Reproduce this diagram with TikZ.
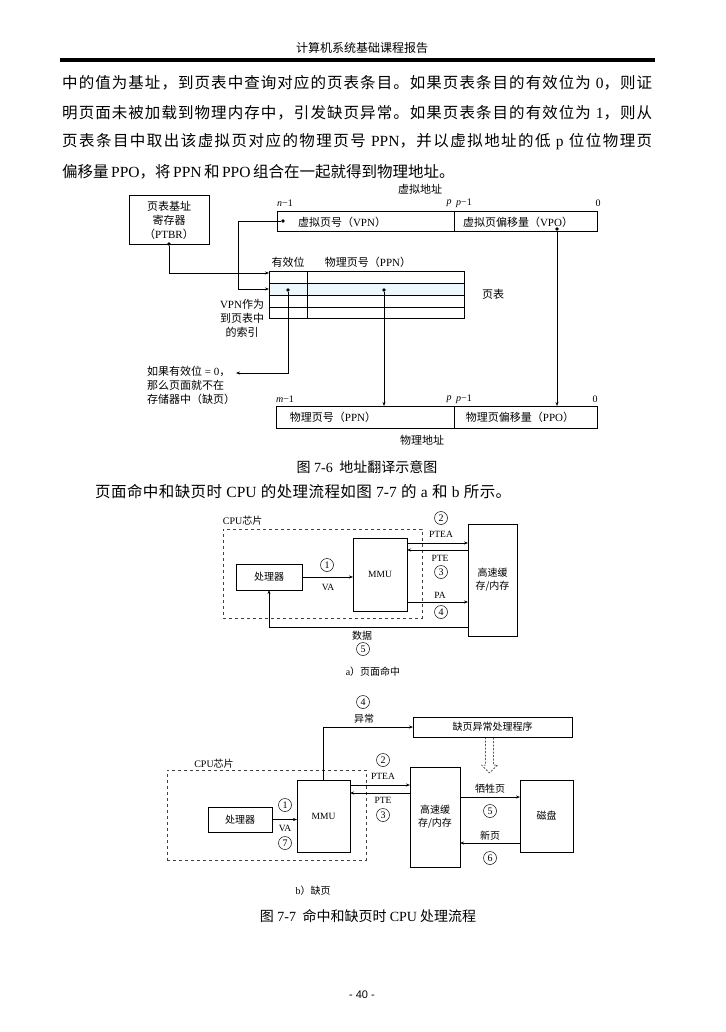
\documentclass[tikz,border=0pt]{standalone}
\usepackage{fontspec}
\setmainfont{Noto Sans CJK SC}
\newfontfamily\latfont{Liberation Serif}
\newfontfamily\pgnfont{Liberation Sans}
\newcommand\ltn[1]{{\latfont #1}}
\usetikzlibrary{arrows.meta, positioning, calc, shadows}

% stretchable glue between CJK characters, for justified lines
\newcount\cjkc
\cjkc="4E00
\loop\XeTeXcharclass\cjkc=7 \advance\cjkc by 1 \ifnum\cjkc<"A000 \repeat
\XeTeXcharclass"FF0C=8 \XeTeXcharclass"3002=8 \XeTeXcharclass"FF09=8
\XeTeXcharclass"FF08=9
\newcommand\cjkglue{\hskip 0pt plus 2pt minus 0.4pt\relax}
\XeTeXinterchartokenstate=1
\XeTeXinterchartoks 7 7 = {\cjkglue}
\XeTeXinterchartoks 7 8 = {\cjkglue}
\XeTeXinterchartoks 8 7 = {\cjkglue}
\XeTeXinterchartoks 7 9 = {\cjkglue}
\XeTeXinterchartoks 9 7 = {\cjkglue}
\newcommand\tsp{\hspace{2.5pt}}

\begin{document}
\begin{tikzpicture}[x=1pt, y=-1pt,
    lbl/.style={font=\fontsize{11}{14}\selectfont, align=center, inner sep=0pt},
    sml/.style={font=\fontsize{10}{13}\selectfont, align=center, inner sep=0pt},
    latl/.style={font=\latfont\fontsize{9.5}{10}\selectfont, inner sep=0pt},
    bitl/.style={font=\latfont\fontsize{10}{10}\selectfont, inner sep=0pt},
    body/.style={font=\fontsize{15.5}{20}\selectfont, anchor=west, inner sep=0pt},
    figcap/.style={font=\fontsize{14}{16}\selectfont, inner sep=0pt},
    fld/.style={draw, line width=1pt, inner sep=0pt, outer sep=0pt},
    bx/.style={draw, line width=0.6pt, fill=white, inner sep=0pt, outer sep=0pt,
      drop shadow={shadow xshift=1.3pt, shadow yshift=-1.3pt, fill=black, opacity=1}},
    chip/.style={draw=black!75, dashed, line width=0.5pt, inner sep=0pt},
    num/.style={circle, draw, line width=0.5pt, inner sep=0pt, minimum size=13pt,
      font=\latfont\fontsize{10}{10}\selectfont},
    arr/.style={-{Stealth[length=4pt, width=3pt]}, line width=0.6pt},
    dot/.style={circle, fill, inner sep=0pt, minimum size=3.6pt},
  ]
  \fill[white] (0,0) rectangle (725,1032);
  \useasboundingbox (0,0) rectangle (725,1032);

  % page head and body text
  \node[font=\fontsize{12}{12}\selectfont] (hdr) at (362,48) {计算机系统基础课程报告};
  \draw[line width=3.2pt] (60,60) -- (655,60);
  \node[body] (l1) at (62,83) {\makebox[590pt][s]{中的值为基址，到页表中查询对应的页表条目。如果页表条目的有效位为\ltn{ 0}，则证}};
  \node[body] (l2) at (62,112.5) {\makebox[590pt][s]{明页面未被加载到物理内存中，引发缺页异常。如果页表条目的有效位为\ltn{ 1}，则从}};
  \node[body] (l3) at (62,142) {\makebox[590pt][s]{页表条目中取出该虚拟页对应的物理页号\ltn{ PPN}，并以虚拟地址的低\ltn{ p }位位物理页}};
  \node[body] (l4) at (62,172) {偏移量\tsp\ltn{PPO}，将\tsp\ltn{PPN}\tsp 和\tsp\ltn{PPO}\tsp 组合在一起就得到物理地址。};

  % fig 7-6
  \node[lbl] (vatitle) at (420,189) {虚拟地址};
  \node[fld, lbl, minimum width=80pt, minimum height=48pt] (ptbr) at (169,220) {页表基址\\寄存器\\（\ltn{PTBR}）};
  \node[fld, minimum width=177pt, minimum height=20pt] (vpn) at (365.5,222) {};
  \node[fld, minimum width=143pt, minimum height=20pt, right=0pt of vpn] (vpo) {};
  \node[lbl] at (342,222) {虚拟页号（\ltn{VPN}）};
  \node[lbl] at (518,222) {虚拟页偏移量（\ltn{VPO}）};
  \node[bitl] at (285,203) {\itshape n\upshape −1};
  \node[bitl] at (449,203) {\itshape p};
  \node[bitl, anchor=west] at (456,203) {\itshape p\upshape −1};
  \node[bitl] at (598,203) {0};

  \node[lbl] at (288,262) {有效位};
  \node[lbl] at (368,262) {物理页号（\ltn{PPN}）};
  \fill[cyan!8] (269,283) rectangle (464,295);
  \node[draw, line width=0.8pt, outer sep=0pt, minimum width=195pt, minimum height=47pt] (ptab) at (366.5,294.5) {};
  \foreach \y in {283,295,307}
    \draw[line width=0.8pt] (269,\y) -- (464,\y);
  \draw[line width=0.8pt] (307,271) -- (307,318);
  \node[lbl, right=18pt of ptab] {页表};
  \coordinate (row1) at (269,273);
  \coordinate (row2) at (269,289);

  \node[dot] (ptbrd) at (ptbr.south) {};
  \node[dot] (vpnd) at (283,221) {};
  \node[dot] (vpod) at (557,229) {};
  \node[dot] (vbit) at (288,290) {};
  \node[dot] (ppnd) at (384,290) {};

  \node[lbl] (idx) at (242,318) {\ltn{VPN}作为\\到页表中\\的索引};
  \node[lbl, align=left, anchor=north west] (fault) at (147,366) {如果有效位\ltn{ = 0}，\\那么页面就不在\\存储器中（缺页）};
  \coordinate (faulttip) at (236,373);

  \node[fld, minimum width=178pt, minimum height=22pt] (ppn) at (365,417) {};
  \node[fld, minimum width=143pt, minimum height=22pt, right=0pt of ppn] (ppo) {};
  \node[lbl] at (333,417) {物理页号（\ltn{PPN}）};
  \node[lbl] at (520,417) {物理页偏移量（\ltn{PPO}）};
  \node[bitl] at (285,399) {\itshape m\upshape −1};
  \node[bitl] at (449,399) {\itshape p};
  \node[bitl, anchor=west] at (456,399) {\itshape p\upshape −1};
  \node[bitl] at (595,399) {0};
  \node[lbl] (patitle) at (422,440) {物理地址};

  \draw[arr] (ptbrd) |- (row1);
  \draw[arr] (vpnd) -- ++(-45,0) |- (row2);
  \draw[arr] (vbit) |- (faulttip);
  \draw[arr] (ppnd) -- (ppnd |- ppn.north);
  \draw[arr] (vpod) -- (vpod |- ppo.north);

  \node[figcap] (cap76) at (367,467) {图\ltn{ 7-6 } 地址翻译示意图};
  \node[body] (l5) at (95,492) {\makebox[416pt][s]{页面命中和缺页时\ltn{ CPU }的处理流程如图\ltn{ 7-7 }的\ltn{ a }和\ltn{ b }所示。}};

  % fig 7-7 a
  \node[chip, minimum width=199pt, minimum height=89pt] (chipa) at (322.5,573.5) {};
  \node[sml, anchor=south west] at ([yshift=3pt]chipa.north west) {\ltn{CPU}芯片};
  \node[bx, sml, minimum width=66pt, minimum height=26pt] (proca) at (269,577) {处理器};
  \node[bx, latl, minimum width=54pt, minimum height=73pt] (mmua) at (380,574.5) {MMU};
  \node[bx, sml, minimum width=49pt, minimum height=112pt] (mema) at (492.5,580) {高速缓\\存/内存};

  \coordinate (pteaa) at ($(mmua.north east)+(0,5)$);
  \coordinate (ptea) at ($(mmua.north east)+(0,12)$);
  \coordinate (paa) at ($(mmua.south east)+(0,-9)$);
  \coordinate (dataa) at ($(mema.south west)+(0,-9)$);
  \draw[arr] (proca.east) -- (proca.east -| mmua.west);
  \draw[arr] (pteaa) -- (pteaa -| mema.west);
  \draw[arr] (ptea -| mema.west) -- (ptea);
  \draw[arr] (paa) -- (paa -| mema.west);
  \draw[arr] (dataa) -| (proca.south);

  \node[num] at (327,565) {1};
  \node[latl] at (328,587) {VA};
  \node[num] at (441,518) {2};
  \node[latl] at (441,534) {PTEA};
  \node[latl] at (440,558) {PTE};
  \node[num] at (441,572) {3};
  \node[latl] at (440,595) {PA};
  \node[num] at (441,612) {4};
  \node[sml] at (362,636) {数据};
  \node[num] at (363,649) {5};
  \node[sml] at (373,672) {\ltn{a}）页面命中};

  % fig 7-7 b
  \node[chip, minimum width=199pt, minimum height=90pt] (chipb) at (266.5,815) {};
  \node[sml] at (214,764) {\ltn{CPU}芯片};
  \node[bx, sml, minimum width=64pt, minimum height=25pt] (procb) at (240,819.5) {处理器};
  \node[bx, latl, minimum width=53pt, minimum height=72pt] (mmub) at (323.5,816) {MMU};
  \node[bx, sml, minimum width=50pt, minimum height=100pt] (memb) at (435,817) {高速缓\\存/内存};
  \node[bx, sml, minimum width=53pt, minimum height=72pt] (diskb) at (546.5,816) {磁盘};
  \node[bx, sml, minimum width=159pt, minimum height=20pt] (handler) at (492.5,727) {缺页异常处理程序};

  \coordinate (pteab) at ($(mmub.north east)+(0,5)$);
  \coordinate (pteb) at ($(mmub.north east)+(0,13)$);
  \coordinate (vict) at ($(diskb.north west)+(0,17)$);
  \coordinate (newp) at ($(diskb.south west)+(0,-9)$);
  \draw[arr] (mmub.north) |- (handler.west);
  \draw[arr] (procb.east) -- (procb.east -| mmub.west);
  \draw[arr] (pteab) -- (pteab -| memb.west);
  \draw[arr] (pteb -| memb.west) -- (pteb);
  \draw[arr] (vict -| memb.east) -- (vict);
  \draw[arr] (newp) -- (newp -| memb.east);
  \coordinate (hs) at ($(handler.south)+(-3,0)$);
  \draw[dash pattern=on 2pt off 1.5pt, line width=0.5pt, line join=round]
    (hs) ++(-4,0) -- ++(0,28) -- ++(-4,0) -- ++(8,8) -- ++(8,-8) -- ++(-4,0) -- ++(0,-28);

  \node[num] at (363,702) {4};
  \node[sml] at (364,719) {异常};
  \node[num] at (285,805) {1};
  \node[latl] at (285,828) {VA};
  \node[num] at (285,843) {7};
  \node[num] at (383,760) {2};
  \node[latl] at (383,776) {PTEA};
  \node[latl] at (383,800) {PTE};
  \node[num] at (383,815) {3};
  \node[sml] at (490,789) {牺牲页};
  \node[num] at (490,811) {5};
  \node[sml] at (490,836) {新页};
  \node[num] at (490,858) {6};
  \node[sml] at (313,891) {\ltn{b}）缺页};

  \node[figcap] (cap77) at (368,916) {图\ltn{ 7-7 } 命中和缺页时 \ltn{CPU} 处理流程};
  \node[font=\pgnfont\fontsize{11}{11}\selectfont] (pgno) at (362,995) {- 40 -};
\end{tikzpicture}
\end{document}
